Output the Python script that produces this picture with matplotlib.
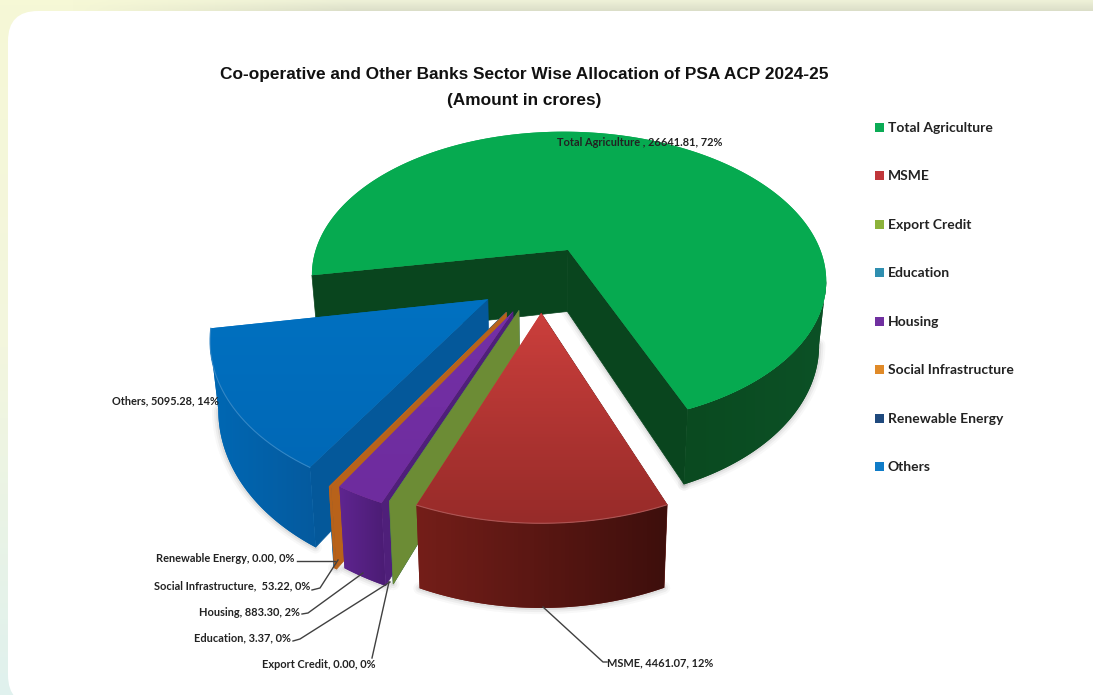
"""
Exploded 3D pie of the sector wise allocation, drawn with plain polygons
on a pixel sized axes so the perspective stays under our control.
"""

import numpy as np
import matplotlib
matplotlib.use('Agg')
import matplotlib.pyplot as plt
import matplotlib.patches as patches
from matplotlib.colors import LinearSegmentedColormap, to_rgb

categories = ['Total Agriculture', 'MSME', 'Export Credit', 'Education', 'Housing',
              'Social Infrastructure', 'Renewable Energy', 'Others']
amounts = [26641.81, 4461.07, 0.00, 3.37, 883.30, 53.22, 0.00, 5095.28]
label_names = ['Total Agriculture ,', 'MSME,', 'Export Credit,', 'Education,', 'Housing,',
               'Social Infrastructure, ', 'Renewable Energy,', 'Others,']

title_lines = ['Co-operative and Other Banks Sector Wise Allocation of PSA ACP 2024-25',
               '(Amount in crores)']

# slice styles, same order as categories
explode = [0.22, 0.22, 0.22, 0.22, 0.235, 0.25, 0.25, 0.24]
top_colors = [('#06aa50', '#06aa50'), ('#cb3f3c', '#972b29'), ('#7f9f3c', '#6b8a33'),
              ('#31859c', '#31859c'), ('#7430a6', '#6e2c9e'), ('#c4691e', '#b8621a'),
              ('#1f497d', '#1f497d'), ('#0071c1', '#0068b6')]
wall_colors = [('#0a4a20', '#0c5126'), ('#741e19', '#3e0f0c'), ('#6f9036', '#6f9036'),
               ('#215f70', '#215f70'), ('#5f2590', '#4b1c74'), ('#b8621a', '#b8621a'),
               ('#04589a', '#04589a'), ('#0068b4', '#055a9e')]
face_colors = ['#09451e', '#5a1613', '#6c8c35', '#215f70', '#4f1f7a', '#b8621a', '#04589a', '#04589a']
legend_colors = ['#0bab55', '#c0363a', '#8cb23a', '#2f8fb0', '#7030a0', '#e08a28', '#1f497d', '#0f7cc8']

# label anchors, leader lines and legend rows in pixels
label_pos = [(557, 142, 'left'), (607, 663, 'left'), (375, 664, 'right'), (291, 638, 'right'),
             (300, 612, 'right'), (310, 586, 'right'), (294, 558, 'right'), (219, 401, 'right')]
leaders = [None,
           [(543, 607), (603, 662), (607, 662)],
           [(372, 658), (389, 582)],
           [(293, 641), (300, 639), (390, 582)],
           [(302, 614), (308, 613), (363, 573)],
           [(312, 590), (320, 588), (338, 560)],
           [(297, 561), (335, 561)],
           None]
legend_rows = [128, 176, 225, 273, 322, 370, 419, 467]

# projection of the pie plane
CX, CY = 541, 278
RX, RY = 262, 152
PERSP = 0.2
DEPTH = 64
START = 260
W, H = 1093, 695


def project(u, v, down=False):
    w = 1 + PERSP * v
    if down:
        return CX + RX * u / w * 0.975, CY - RY * v / w + DEPTH / w
    return CX + RX * u / w, CY - RY * v / w


def rim_points(t1, t2, off, down=False, n=80):
    t = np.radians(np.linspace(t1, t2, n))
    return project(off[0] + np.sin(t), off[1] + np.cos(t), down)


def mix(c1, c2, t):
    a, b = np.array(to_rgb(c1)), np.array(to_rgb(c2))
    return tuple(a + (b - a) * t)


def soft_edge(ax, xs, ys, z):
    # wide faint strokes give the shadow on the card
    for lw, alpha in [(9, 0.03), (6, 0.05), (3, 0.08)]:
        ax.plot(xs, ys, color='#303030', lw=lw, alpha=alpha, zorder=z, solid_capstyle='round')


def gradient_fill(ax, px, py, colors, z, horizontal=False):
    poly = patches.Polygon(np.c_[px, py], closed=True, fc=colors[0], ec='none', zorder=z)
    ax.add_patch(poly)
    cmap = LinearSegmentedColormap.from_list('fill', colors)
    ramp = np.linspace(0, 1, 64)
    ramp = ramp.reshape(1, -1) if horizontal else ramp.reshape(-1, 1)
    im = ax.imshow(ramp, cmap=cmap, aspect='auto', origin='upper',
                   extent=(px.min(), px.max(), py.max(), py.min()), zorder=z)
    im.set_clip_path(poly)


def near_range(tx, ty):
    # indices of the arc that face the viewer: walk out from the lowest
    # point until x stops moving in the same direction
    low = int(np.argmax(ty))
    a = low
    while a > 0 and tx[a - 1] > tx[a]:
        a -= 1
    b = low
    while b < len(tx) - 1 and tx[b + 1] < tx[b]:
        b += 1
    return a, b + 1


def draw_slice(ax, i, t1, t2, z):
    mid = np.radians((t1 + t2) / 2)
    off = (explode[i] * np.sin(mid), explode[i] * np.cos(mid))
    ax_, ay_ = project(off[0], off[1])
    bx_, by_ = project(off[0], off[1], True)

    # side faces, the near one is what shows on the left half of the pie
    face_angles = (t1, t2) if i == 0 else (t1,)
    for t in face_angles:
        rx, ry = rim_points(t, t, off, n=1)
        qx, qy = rim_points(t, t, off, True, n=1)
        ax.add_patch(patches.Polygon([(ax_, ay_), (rx[0], ry[0]), (qx[0], qy[0]), (bx_, by_)],
                                     closed=True, fc=face_colors[i], ec=face_colors[i], lw=0.5, zorder=z))
    if i == 0:
        qx, qy = rim_points(t2, t2, off, True, n=1)
        soft_edge(ax, [bx_, qx[0]], [by_, qy[0]], z - 0.5)

    if t2 - t1 < 0.01:
        return

    # outer wall, shaded from left to right
    tx, ty = rim_points(t1, t2, off, n=240)
    lx, ly = rim_points(t1, t2, off, True, n=240)
    a, b = near_range(tx, ty)
    soft_edge(ax, lx[a:b], ly[a:b], z - 0.5)
    gradient_fill(ax, np.r_[tx[a:b], lx[a:b][::-1]], np.r_[ty[a:b], ly[a:b][::-1]],
                  wall_colors[i], z + 0.05, horizontal=True)

    # top surface with a vertical gradient
    gradient_fill(ax, np.r_[ax_, tx], np.r_[ay_, ty], top_colors[i], z + 0.1)
    if categories[i] in ('MSME', 'Others'):
        ax.plot(tx, ty, color=mix(top_colors[i][1], 'white', 0.2), lw=0.8, zorder=z + 0.2)


def draw_background(ax):
    cmap = LinearSegmentedColormap.from_list('bg', ['#f6f8d6', '#f3f6de', '#e0f1ee'])
    ax.imshow(np.linspace(0, 1, 128).reshape(-1, 1), cmap=cmap, aspect='auto', origin='upper',
              extent=(0, W, H, 0), zorder=0)
    # band above the card fades in from the left and darkens towards its lower edge
    rgba = np.zeros((16, 256, 4))
    for row in range(16):
        rgba[row, :, :3] = mix('#eef1d8', '#d6d9c4', row / 15)
    rgba[:, :, 3] = np.clip(np.linspace(0, 256 * 0.9, 256) / 60 - 0.25, 0, 1)
    ax.imshow(rgba, aspect='auto', origin='upper', extent=(0, W, 14, 0), zorder=0.1)
    card = patches.FancyBboxPatch((38, 41), W + 4 - 38, H + 10 - 41 - 30,
                                  boxstyle='round,pad=30,rounding_size=30', fc='white', ec='none', zorder=0.5)
    ax.add_patch(card)


fig = plt.figure(figsize=(W / 100, H / 100), dpi=100)
ax = fig.add_axes([0, 0, 1, 1])
draw_background(ax)

shares = np.array(amounts) / np.sum(amounts) * 360
ends = START + np.cumsum(shares)
starts = ends - shares

# far slice first, then the rest going round from Others back to MSME
order = [0, 7, 6, 5, 4, 3, 2, 1]
for z, i in enumerate(order):
    draw_slice(ax, i, starts[i], ends[i], 2 + z)

for i, name in enumerate(label_names):
    pct = amounts[i] / np.sum(amounts) * 100
    x, y, ha = label_pos[i]
    ax.text(x, y, f'{name} {amounts[i]:.2f}, {pct:.0f}%', ha=ha, va='center', family='Lato',
            fontsize=7.9, fontweight='bold', color='#222222', zorder=20)
    if leaders[i] is not None:
        ax.plot(*zip(*leaders[i]), color='#404040', lw=1, zorder=19)

for name, col, y in zip(categories, legend_colors, legend_rows):
    ax.add_patch(patches.Rectangle((875, y - 5), 9, 9, fc=col, ec='none', zorder=20))
    ax.text(888, y, name, ha='left', va='center', family='Lato', fontsize=10,
            fontweight='bold', color='#222222', zorder=20)

for line, y in zip(title_lines, (74, 101)):
    ax.text(524, y, line, ha='center', va='center', family='Liberation Sans', fontsize=12.4,
            fontweight='bold', color='#111111', zorder=20)

ax.set_xlim(0, W)
ax.set_ylim(H, 0)
ax.axis('off')
fig.savefig('out.png', dpi=100)
